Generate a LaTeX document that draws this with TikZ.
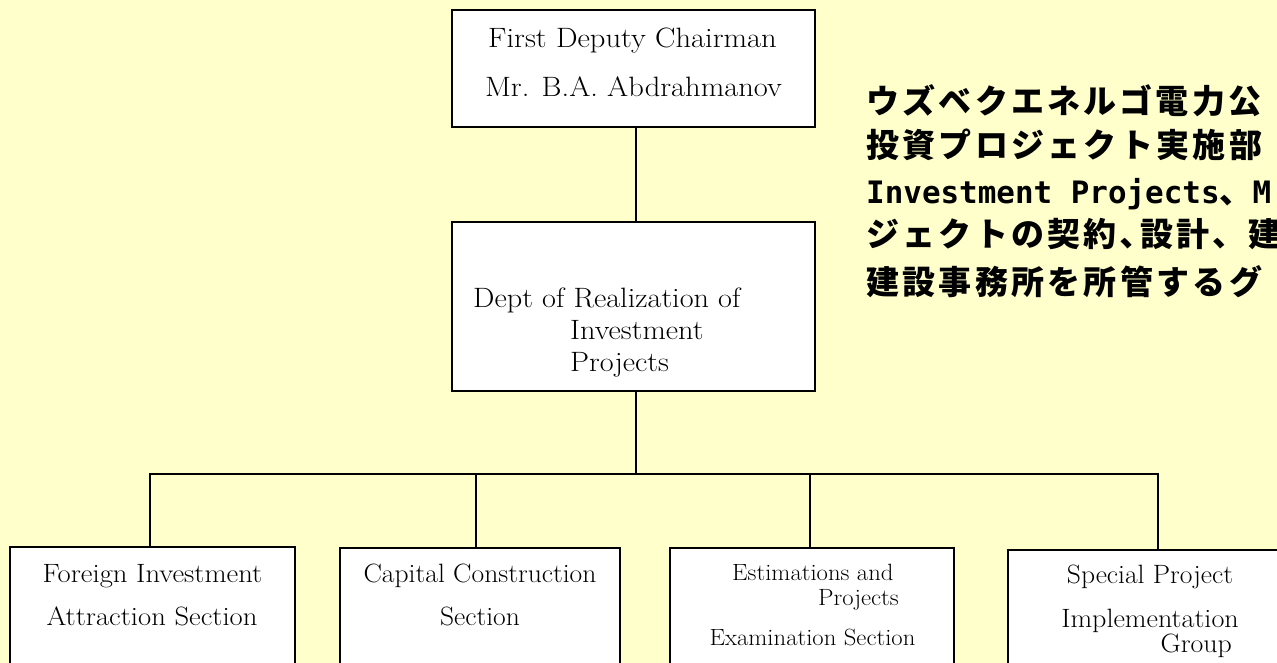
\documentclass[tikz,border=0pt]{standalone}
\usepackage{graphicx}
\usepackage{fontspec}
\newfontfamily\jp[LetterSpace=10]{Noto Sans CJK JP}
\newfontfamily\jpmono{DejaVu Sans Mono}
\definecolor{bgyellow}{HTML}{FFFFCC}
\newcommand\hstretch[2]{\scalebox{#1}[1]{#2}}
\begin{document}
\begin{tikzpicture}[x=1pt,y=-1pt,
  box/.style={draw=black,line width=1.5pt,fill=white,rectangle,inner sep=0pt,outer sep=0pt},
  conn/.style={line width=1.6pt,draw=black},
  lblA/.style={inner sep=0pt,font=\fontsize{28}{32}\selectfont},
  lblB/.style={inner sep=0pt,font=\fontsize{26.5}{30}\selectfont},
  lblC/.style={inner sep=0pt,font=\fontsize{23.5}{27}\selectfont},
  jpl/.style={inner sep=0pt,anchor=base west,font=\fontsize{33}{40}\jp\bfseries}]
\useasboundingbox (0,0) rectangle (1277,663);
\clip (0,0) rectangle (1277,663);
\fill[bgyellow] (0,0) rectangle (1277,663);

% boxes
\node[box,minimum width=363pt,minimum height=117pt] (chair) at (633.5,68.5) {};
\node[box,minimum width=363pt,minimum height=169pt] (dept) at (633.5,306.5) {};
\node[box,minimum width=285pt,minimum height=173pt] (b1) at (152.5,633.5) {};
\node[box,minimum width=280pt,minimum height=172pt] (b2) at (480,634) {};
\node[box,minimum width=284pt,minimum height=172pt] (b3) at (812,634) {};
\node[box,minimum width=312pt,minimum height=170pt] (b4) at (1164,635) {};

% connectors
\coordinate (j) at (636,474);
\coordinate (t1) at (150,474);
\coordinate (t2) at (476,474);
\coordinate (t3) at (810,474);
\coordinate (t4) at (1158,474);
\draw[conn] (chair.south -| j) -- (dept.north -| j);
\draw[conn] (dept.south -| j) -- (j);
\draw[conn] (t1 |- b1.north) -- (t1) -- (t4) -- (t4 |- b4.north);
\draw[conn] (t2) -- (t2 |- b2.north);
\draw[conn] (t3) -- (t3 |- b3.north);

% texts top box
\node[lblA,anchor=base] (c1) at (632.5,48) {\hstretch{1.09}{First Deputy Chairman}};
\node[lblA,anchor=base] (c2) at (633.5,97) {\hstretch{1.09}{Mr. B.A. Abdrahmanov}};
% dept
\node[lblA,anchor=base west] (d1) at (473,307) {\hstretch{1.08}{Dept of Realization of}};
\node[lblA,anchor=base west] (d2) at (570,339) {\hstretch{1.08}{Investment}};
\node[lblA,anchor=base west] (d3) at (570,371) {\hstretch{1.08}{Projects}};
% bottom boxes
\node[lblB,anchor=base] (f1) at (152.5,582) {\hstretch{1.08}{Foreign Investment}};
\node[lblB,anchor=base] (f2) at (152,625) {\hstretch{1.08}{Attraction Section}};
\node[lblB,anchor=base] (g1) at (480,582) {\hstretch{1.04}{Capital Construction}};
\node[lblB,anchor=base] (g2) at (480,625) {\hstretch{1.04}{Section}};
\node[lblC,anchor=base west] (h1) at (732,580) {\hstretch{1.05}{Estimations and}};
\node[lblC,anchor=base east] (h2) at (899,605) {\hstretch{1.05}{Projects}};
\node[lblC,anchor=base] (h3) at (812.5,645) {\hstretch{1.05}{Examination Section}};
\node[lblB,anchor=base] (k1) at (1150,583) {\hstretch{1.04}{Special Project}};
\node[lblB,anchor=base] (k2) at (1150,627) {\hstretch{1.06}{Implementation}};
\node[lblB,anchor=base east] (k3) at (1232,652) {\hstretch{1.05}{Group}};

% Japanese block
\node[jpl] (j1) at (866,114) {ウズベクエネルゴ電力公};
\node[jpl] (j2) at (866,158) {投資プロジェクト実施部};
\node[jpl] (j3) at (866,204) {{\fontsize{30.9}{36}\jpmono Investment Projects}、{\fontsize{30.9}{36}\jpmono M}};
\node[jpl] (j4) at (866,247) {ジェクトの契約､設計、建};
\node[jpl] (j5) at (866,294) {建設事務所を所管するグ};
\end{tikzpicture}
\end{document}
